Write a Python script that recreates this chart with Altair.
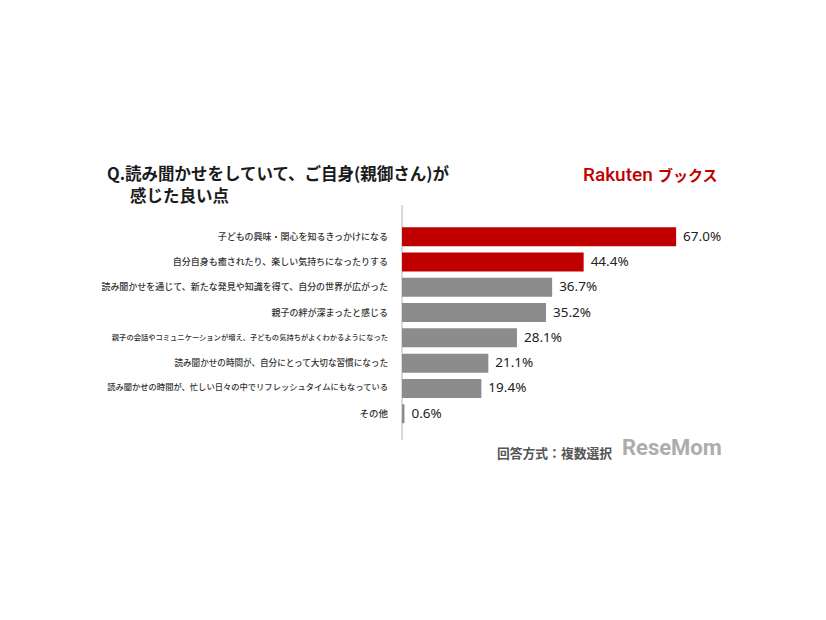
import altair as alt
import pandas as pd

categories = [
    "子どもの興味・関心を知るきっかけになる",
    "自分自身も癒されたり、楽しい気持ちになったりする",
    "読み聞かせを通じて、新たな発見や知識を得て、自分の世界が広がった",
    "親子の絆が深まったと感じる",
    "親子の会話やコミュニケーションが増え、子どもの気持ちがよくわかるようになった",
    "読み聞かせの時間が、自分にとって大切な習慣になった",
    "読み聞かせの時間が、忙しい日々の中でリフレッシュタイムにもなっている",
    "その他",
]
values = [67.0, 44.4, 36.7, 35.2, 28.1, 21.1, 19.4, 0.6]
groups = ["top", "top", "other", "other", "other", "other", "other", "other"]

title_line1 = "Q.読み聞かせをしていて、ご自身(親御さん)が"
title_line2 = "感じた良い点"
logo_a = "Rakuten"
logo_b = "ブックス"
footer = "回答方式：複数選択"
watermark = "ReseMom"

df = pd.DataFrame({
    "cat": categories,
    "val": values,
    "grp": groups,
    "lbl": [f"{v:.1f}%" for v in values],
})

JP = "Noto Sans CJK JP"
W, H = 340, 202.4

xenc = alt.X("val:Q", scale=alt.Scale(domain=[0, 83.1], nice=False, zero=True), axis=None)
yenc = alt.Y(
    "cat:N",
    sort=categories,
    title=None,
    scale=alt.Scale(paddingInner=0.25, paddingOuter=0.125),
    axis=None,
)

base = alt.Chart(df)
bars = base.mark_bar().encode(
    x=xenc,
    y=yenc,
    color=alt.Color("grp:N", scale=alt.Scale(domain=["top", "other"], range=["#c00000", "#8c8c8c"]), legend=None),
)
vals = base.mark_text(align="left", baseline="middle", dx=7, fontSize=13.5, fontWeight="normal", color="#222222", font="Noto Sans").encode(
    x=xenc, y=yenc, text="lbl:N"
)
cats = base.mark_text(align="right", baseline="middle", font=JP, fontWeight=500, color="#333333").encode(
    x=alt.value(-14),
    y=yenc,
    text="cat:N",
    size={
        "condition": [
            {"test": f"datum.cat === '{categories[4]}'", "value": 7.3},
            {"test": f"datum.cat === '{categories[6]}'", "value": 8.3},
            {"test": f"datum.cat === '{categories[5]}'", "value": 8.6},
            {"test": f"datum.cat === '{categories[7]}'", "value": 9.5},
        ],
        "value": 9,
    },
)

rule = alt.Chart(pd.DataFrame({"v": [0]})).mark_rule(color="#dadada", strokeWidth=2).encode(
    x=alt.value(0), y=alt.value(-19), y2=alt.value(216)
)

def label(txt, x, y, **kw):
    return alt.Chart(pd.DataFrame({"t": [txt]})).mark_text(**kw).encode(
        x=alt.value(x), y=alt.value(y), text="t:N"
    )

t1 = label(title_line1, -295, -44, align="left", baseline="alphabetic", fontSize=16.5, fontWeight="bold", font=JP, color="#1a1a1a")
t2 = label(title_line2, -272, -22, align="left", baseline="alphabetic", fontSize=16.5, fontWeight="bold", font=JP, color="#1a1a1a")
la = label(logo_a, 181, -43, align="left", baseline="alphabetic", fontSize=19, fontWeight=500, font="Roboto", color="#bf0000")
lb = label(logo_b, 256, -43, align="left", baseline="alphabetic", fontSize=15, fontWeight="bold", font=JP, color="#bf0000")
ft = label(footer, 95, 234, align="left", baseline="alphabetic", fontSize=12.8, fontWeight="bold", font=JP, color="#555555")
wm = label(watermark, 220, 231, align="left", baseline="alphabetic", fontSize=22, fontWeight="bold", font="Roboto", color="#999999", opacity=0.8)

chart = alt.layer(rule, bars, vals, cats, t1, t2, la, lb, ft, wm).properties(
    width=W,
    height=H,
    autosize=alt.AutoSizeParams(type="none"),
    padding={"left": 394, "top": 216, "right": 70, "bottom": 170},
).configure_view(stroke=None)

chart.save("out.html", embed_options={"renderer": "svg", "actions": False})
